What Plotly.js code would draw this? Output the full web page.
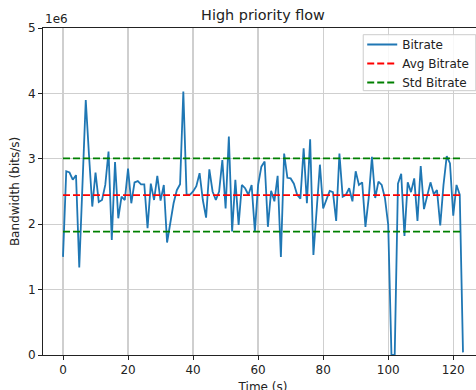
<!DOCTYPE html>
<html>
<head>
<meta charset="utf-8">
<script src="https://cdn.plot.ly/plotly-3.0.1.min.js"></script>
<style>
  html, body { margin: 0; padding: 0; overflow: hidden; background: #fff; }
  #chart { width: 500px; height: 400px; }
</style>
</head>
<body>
<div id="chart"></div>
<script>
// Time stamps (seconds) of each bitrate sample
const timeSec = [
  0, 1, 2, 3, 4, 5, 6, 7, 8, 9,
  10, 11, 12, 13, 14, 15, 16, 17, 18, 19,
  20, 21, 22, 23, 24, 25, 26, 27, 28, 29,
  30, 31, 32, 33, 34, 35, 36, 37, 38, 39,
  40, 41, 42, 43, 44, 45, 46, 47, 48, 49,
  50, 51, 52, 53, 54, 55, 56, 57, 58, 59,
  60, 61, 62, 63, 64, 65, 66, 67, 68, 69,
  70, 71, 72, 73, 74, 75, 76, 77, 78, 79,
  80, 81, 82, 83, 84, 85, 86, 87, 88, 89,
  90, 91, 92, 93, 94, 95, 96, 97, 98, 99,
  100, 101, 102, 103, 104, 105, 106, 107, 108, 109,
  110, 111, 112, 113, 114, 115, 116, 117, 118, 119,
  120, 121, 122, 123
];

// Measured bitrate, in Mbit/s (scaled to bits/s below)
const bitrateMbps = [
  1.50, 2.81, 2.79, 2.68, 2.75, 1.34, 2.62, 3.90, 3.05, 2.27,
  2.79, 2.34, 2.37, 2.60, 3.11, 1.76, 2.95, 2.09, 2.42, 2.37,
  2.85, 2.32, 2.64, 2.66, 2.61, 2.61, 1.94, 2.62, 2.37, 2.74,
  2.36, 2.60, 1.72, 2.04, 2.32, 2.52, 2.61, 4.03, 2.45, 2.45,
  2.50, 2.58, 2.78, 2.37, 2.10, 2.84, 2.50, 2.37, 2.50, 2.98,
  2.24, 3.34, 1.89, 2.68, 1.99, 2.60, 2.55, 2.45, 2.60, 1.89,
  2.60, 2.88, 2.96, 1.96, 2.51, 2.35, 2.74, 1.50, 3.08, 2.71,
  2.70, 2.62, 2.45, 2.39, 3.16, 2.32, 3.30, 1.53, 2.29, 2.91,
  2.24, 2.37, 2.51, 2.49, 2.05, 3.08, 2.42, 2.45, 2.55, 2.35,
  2.81, 2.60, 2.64, 1.96, 2.40, 3.03, 2.40, 2.65, 2.60, 2.40,
  1.99, 0.00, 0.00, 2.62, 2.77, 1.82, 2.64, 2.49, 2.70, 2.05,
  2.89, 2.23, 2.45, 2.64, 2.46, 2.52, 1.98, 2.60, 3.04, 2.93,
  2.13, 2.60, 2.45, 0.04
];

// Summary statistics of the flow (bits/s)
const avgBitrate = 2.445e6;
const stdBitrate = 0.56e6;

// Axis ticks
const xTicks = [0, 20, 40, 60, 80, 100, 120];
const yTickVals = [0, 1e6, 2e6, 3e6, 4e6, 5e6];
const yTickText = ['0', '1', '2', '3', '4', '5'];

const bitrate = bitrateMbps.map(v => v * 1e6);
const tStart = timeSec[0];
const tEnd = timeSec[timeSec.length - 1];

const FONT = 'DejaVu Sans, sans-serif';

const traces = [
  {
    x: timeSec, y: bitrate, name: 'Bitrate', type: 'scatter', mode: 'lines',
    line: { color: '#1f77b4', width: 1.8 }, legendgroup: 'a'
  },
  {
    x: [tStart, tEnd], y: [avgBitrate, avgBitrate], name: 'Avg Bitrate',
    type: 'scatter', mode: 'lines',
    line: { color: '#ff0000', width: 1.8, dash: '7px,3px' }, legendgroup: 'b'
  },
  {
    x: [tStart, tEnd, null, tStart, tEnd],
    y: [avgBitrate + stdBitrate, avgBitrate + stdBitrate, null,
        avgBitrate - stdBitrate, avgBitrate - stdBitrate],
    name: 'Std Bitrate', type: 'scatter', mode: 'lines', connectgaps: false,
    line: { color: '#008000', width: 1.8, dash: '7px,3px' }, legendgroup: 'c'
  }
];

const axisCommon = {
  showline: true, linecolor: '#222', linewidth: 1, mirror: true,
  showgrid: true, gridcolor: '#cfcfcf', gridwidth: 1.3,
  zeroline: false,
  ticks: 'outside', ticklen: 4, tickcolor: '#222', tickwidth: 1,
  tickfont: { family: FONT, size: 12, color: '#222' }
};

const layout = {
  width: 500, height: 400,
  margin: { l: 43, r: 17.3, t: 28, b: 45 },
  paper_bgcolor: '#fff', plot_bgcolor: '#fff',
  font: { family: FONT, size: 12, color: '#222' },
  title: {
    text: 'High priority flow',
    font: { family: FONT, size: 14.4, color: '#222' },
    x: 0.5, xref: 'paper', xanchor: 'center',
    y: 1 - 15 / 400, yref: 'container', yanchor: 'middle'
  },
  xaxis: Object.assign({}, axisCommon, {
    range: [-6.15, 129.15],
    tickvals: xTicks,
    title: { text: 'Time (s)', font: { family: FONT, size: 12, color: '#222' }, standoff: 6 }
  }),
  yaxis: Object.assign({}, axisCommon, {
    range: [0, 5e6],
    tickvals: yTickVals, ticktext: yTickText,
    title: { text: 'Bandwidth (bits/s)', font: { family: FONT, size: 12, color: '#222' }, standoff: 5 }
  }),
  showlegend: true,
  legend: {
    x: 0.7255, xanchor: 'left', y: 0.9939, yanchor: 'top',
    bgcolor: 'rgba(0,0,0,0)', borderwidth: 0,
    font: { family: FONT, size: 12, color: '#222' },
    tracegroupgap: 0, itemwidth: 30
  },
  // legend frame, drawn above the plot lines
  shapes: [{
    type: 'rect', xref: 'paper', yref: 'paper', layer: 'above',
    x0: 0.7278, x1: 0.9836, y0: 0.8083, y1: 0.9795,
    fillcolor: 'rgba(255,255,255,0.85)',
    line: { color: '#cccccc', width: 1 }
  }],
  annotations: [{
    text: '1e6', xref: 'paper', yref: 'paper', x: 0, y: 1,
    xanchor: 'left', yanchor: 'bottom', showarrow: false, yshift: 0,
    font: { family: FONT, size: 12, color: '#222' }
  }]
};

Plotly.newPlot('chart', traces, layout, { displayModeBar: false, staticPlot: true });
</script>
</body>
</html>
